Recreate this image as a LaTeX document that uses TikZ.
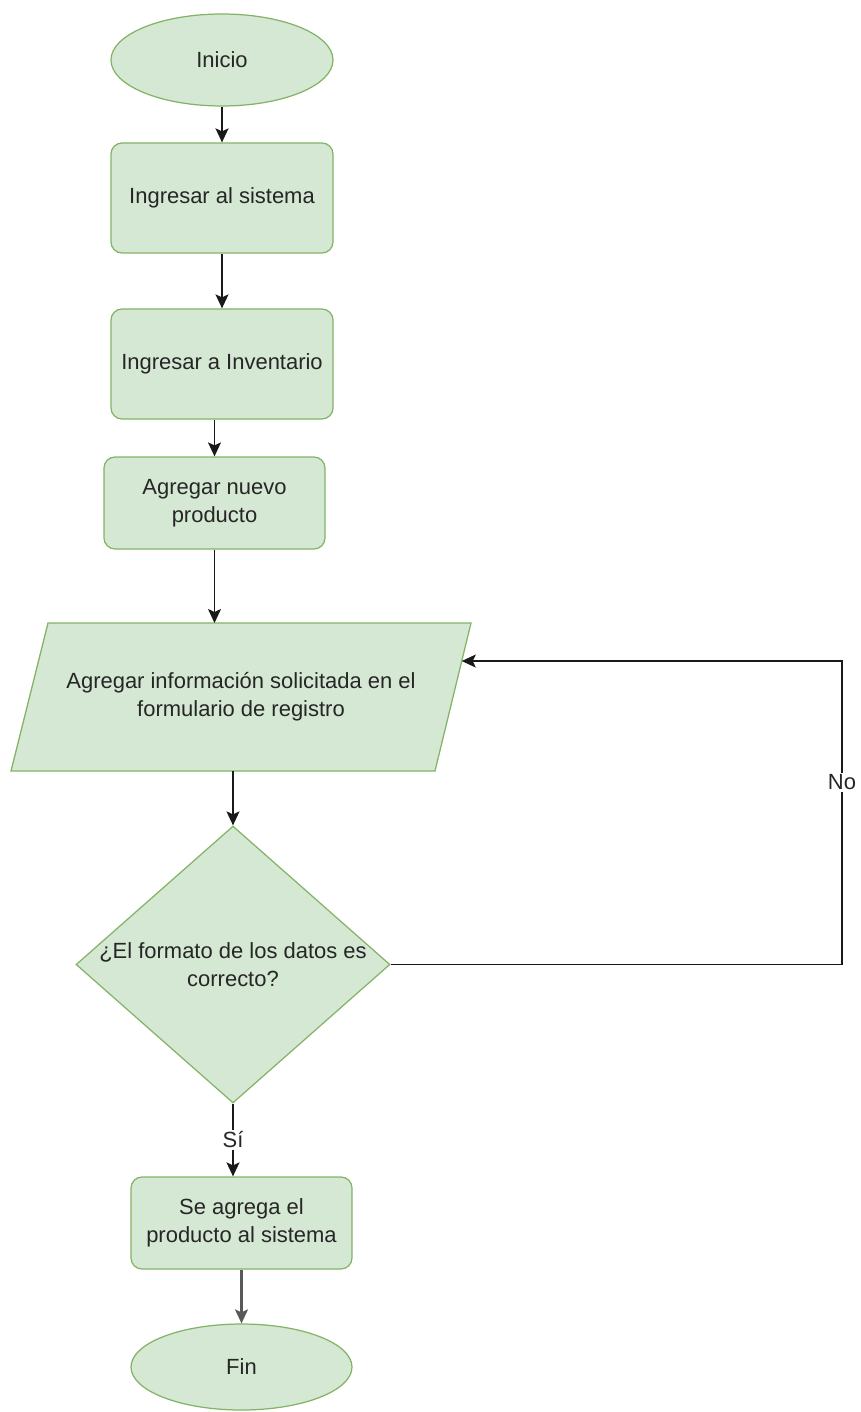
\documentclass[tikz,border=0pt]{standalone}
\usepackage{fontspec}
\setmainfont{Liberation Sans}
\usepackage{xcolor}
\usepackage{tikz}
\usetikzlibrary{shapes.geometric,arrows.meta,calc}

\definecolor{verdefondo}{HTML}{D5E8D4}
\definecolor{verdeborde}{HTML}{82B366}

\begin{document}
\begin{tikzpicture}[scale = 1,
  >={Stealth[length=2.8mm, width=2.6mm, inset=0.6mm]},
  caja/.style = {draw = verdeborde, fill = verdefondo, line width = 0.7pt, text = black!85, align = center, font = \fontsize{12.5}{16}\selectfont},
  terminal/.style = {caja, ellipse, minimum width = 4.44cm, minimum height = 1.84cm},
  proceso/.style = {caja, rectangle, rounded corners = 0.22cm, minimum width = 4.44cm, minimum height = 2.2cm},
  decision/.style = {caja, diamond, minimum width = 6.28cm, minimum height = 5.54cm},
  texto/.style = {align = center, text = black!85, font = \fontsize{12.5}{16}\selectfont},
  flecha/.style = {->, line width = 0.9pt, black!90},
  etiqueta/.style = {fill = white, inner sep = 1pt, text = black!85, font = \fontsize{12.5}{14}\selectfont}]

\useasboundingbox (0,0) rectangle (17.2,-28.24);

\node[terminal] (inicio) at (4.44,-1.20) {Inicio};
\node[proceso] (sistema) at (4.44,-3.96) {Ingresar al sistema};
\node[proceso] (inventario) at (4.44,-7.28) {Ingresar a Inventario};
\node[proceso, minimum width = 4.42cm, minimum height = 1.84cm] (nuevo) at (4.29,-10.06) {Agregar nuevo\\producto};

\coordinate (regsupizq) at (0.96,-12.46);
\coordinate (regsupder) at (9.42,-12.46);
\coordinate (reginfder) at (8.70,-15.42);
\coordinate (reginfizq) at (0.22,-15.42);
\draw [draw = verdeborde, fill = verdefondo, line width = 0.7pt] (regsupizq) -- (regsupder) -- (reginfder) -- (reginfizq) -- cycle;
\node[texto] (registro) at (4.82,-13.94) {Agregar información solicitada en el\\formulario de registro};

\node[decision] (formato) at (4.66,-19.29) {};
\node[texto] (formatotexto) at (formato.center) {¿El formato de los datos es\\correcto?};
\node[proceso, minimum width = 4.42cm, minimum height = 1.84cm] (agrega) at (4.83,-24.46) {Se agrega el\\producto al sistema};
\node[terminal, minimum width = 4.42cm, minimum height = 1.72cm] (fin) at (4.83,-27.34) {Fin};

\coordinate (bucle) at (16.84,-19.29);
\coordinate (retorno) at ($(regsupder)!0.257!(reginfder)$);

\draw [flecha] (inicio) -- (sistema);
\draw [flecha] (sistema) -- (inventario);
\draw [flecha] (inventario.south -| nuevo.north) -- (nuevo.north);
\draw [flecha] (nuevo.south) -- (nuevo.south |- regsupizq);
\draw [flecha] (reginfizq -| formato.north) -- (formato.north);
\draw [flecha] (formato.east) -- (bucle) |- node[etiqueta, pos = 0.3] {No} (retorno);
\draw [flecha] (formato.south) -- node[etiqueta] {Sí} (formato.south |- agrega.north);
\draw [flecha, black!65, line width = 1.3pt] (agrega) -- (fin);

\end{tikzpicture}
\end{document}
